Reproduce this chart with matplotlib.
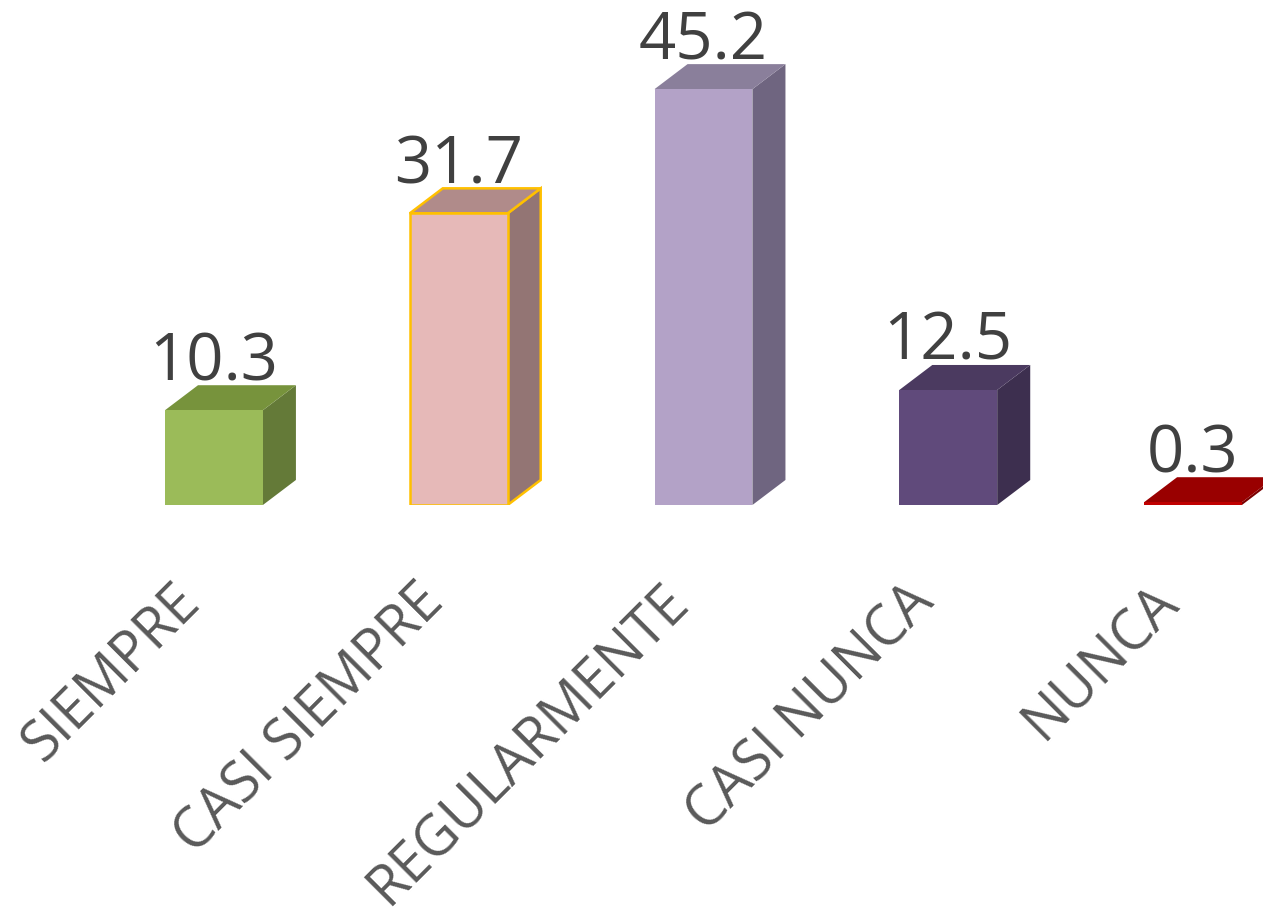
import numpy as np
import matplotlib.pyplot as plt

categories = ["SIEMPRE", "CASI SIEMPRE", "REGULARMENTE", "CASI NUNCA", "NUNCA"]
values = [10.3, 31.7, 45.2, 12.5, 0.3]
value_labels = ["10.3", "31.7", "45.2", "12.5", "0.3"]

front_c = ["#9BBB59", "#E6B9B8", "#B3A2C7", "#604A7B", "#C00000"]
top_c = ["#77933C", "#B08B8A", "#8A7F9B", "#4B3A60", "#990000"]
side_c = ["#647A38", "#937574", "#6F6580", "#3D2F4F", "#7A0000"]
edge_c = [None, "#FFC000", None, None, None]

plt.rcParams['font.family'] = ['Open Sans', 'DejaVu Sans']

fig = plt.figure(figsize=(12.63, 9.14), dpi=100)
ax = fig.add_axes([0, 409/914, 1, 505/914])

x = np.arange(len(categories))
w = 0.40
dx = 0.135   # depth offset
dy = 2.72

for i, v in enumerate(values):
    l, r = x[i] - w/2, x[i] + w/2
    ec = edge_c[i] if edge_c[i] else "none"
    lw = 1.8 if edge_c[i] else 0
    # side face
    ax.fill([r, r + dx, r + dx, r], [0, dy, v + dy, v], color=side_c[i], ec=ec, lw=lw, zorder=2)
    # top face
    ax.fill([l, r, r + dx, l + dx], [v, v, v + dy, v + dy], color=top_c[i], ec=ec, lw=lw, zorder=2)
    # front face
    ax.bar(x[i], v, width=w, color=front_c[i], ec=ec, lw=lw, zorder=3)
    ax.text(x[i], v + dy + 0.55, value_labels[i], ha="center", va="baseline",
            fontsize=47, color="#404040", zorder=4, clip_on=False)
    ax.text(x[i] - 0.175, -7.5, categories[i], rotation=45, rotation_mode="anchor",
            ha="right", va="top", fontsize=40, color="#595959", clip_on=False)

ax.set_xlim(-0.874, 4.286)
ax.set_ylim(0, 54.89)
ax.axis("off")

fig.savefig("out.png", dpi=100)
